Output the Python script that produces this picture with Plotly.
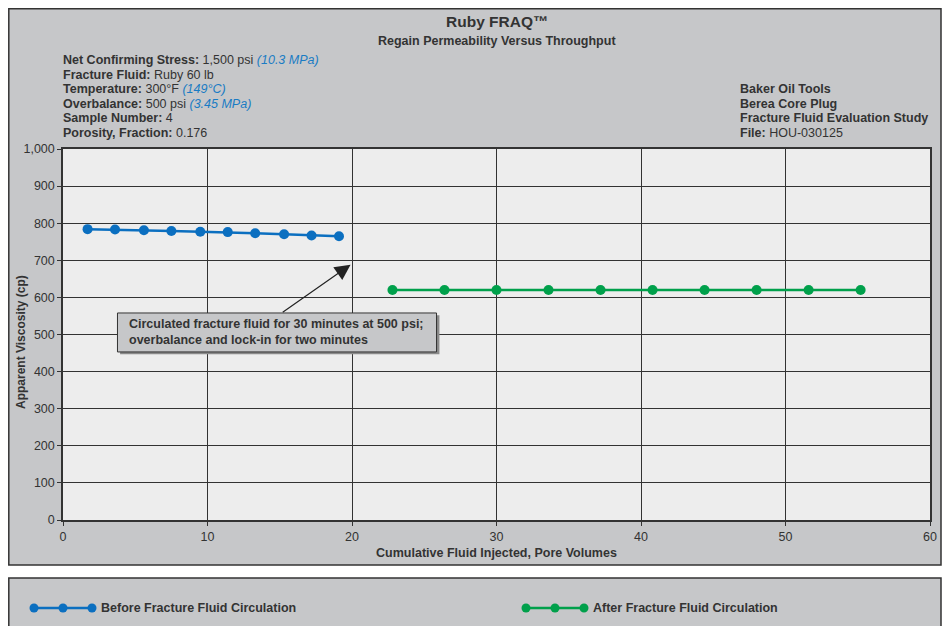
import plotly.graph_objects as go

# ---------------- data ----------------
before_x = [1.7, 3.6, 5.6, 7.5, 9.5, 11.4, 13.3, 15.3, 17.2, 19.1]
before_y = [784, 783, 781, 779, 777, 776, 773, 770, 767, 765]
after_x = [22.8, 26.4, 30.0, 33.6, 37.2, 40.8, 44.4, 48.0, 51.6, 55.2]
after_y = [620, 620, 620, 620, 620, 620, 620, 620, 620, 620]
x_ticks = [0, 10, 20, 30, 40, 50, 60]
y_ticks = [0, 100, 200, 300, 400, 500, 600, 700, 800, 900, 1000]
y_tick_text = ["0", "100", "200", "300", "400", "500", "600", "700", "800", "900", "1,000"]
series_names = ["Before Fracture Fluid Circulation", "After Fracture Fluid Circulation"]

BLUE = "#0b6fc0"
GREEN = "#00a04b"
DARK = "#333333"
PANEL = "#c6c7c9"
PLOTBG = "#ededed"
SANS = "Liberation Sans, Arial, Helvetica, sans-serif"

W, H = 942, 626
L, R, T, B = 63, 12, 149, 106
PW = W - L - R
PH = H - T - B


def px(x):
    return (x - L) / PW


def py(y):
    return (H - B - y) / PH


fig = go.Figure()
fig.add_trace(go.Scatter(x=before_x, y=before_y, mode="lines+markers", name=series_names[0],
                         line=dict(color=BLUE, width=2.5), marker=dict(color=BLUE, size=10),
                         showlegend=False))
fig.add_trace(go.Scatter(x=after_x, y=after_y, mode="lines+markers", name=series_names[1],
                         line=dict(color=GREEN, width=2.5), marker=dict(color=GREEN, size=10),
                         showlegend=False))

shapes = []
# outer panel
shapes.append(dict(type="rect", xref="paper", yref="paper", x0=px(8.8), x1=px(941), y0=py(565), y1=py(8.8),
                   fillcolor=PANEL, line=dict(color=DARK, width=1.5), layer="below"))
# plot background
shapes.append(dict(type="rect", xref="paper", yref="paper", x0=0, x1=1, y0=0, y1=1,
                   fillcolor=PLOTBG, line=dict(width=0), layer="below"))
# legend panel
shapes.append(dict(type="rect", xref="paper", yref="paper", x0=px(8.8), x1=px(941), y0=py(640), y1=py(578),
                   fillcolor=PANEL, line=dict(color=DARK, width=1.5), layer="below"))
# annotation box shadow and box (data coordinates)
shapes.append(dict(type="rect", xref="x", yref="y", x0=3.95, x1=26.05, y0=447, y1=552,
                   fillcolor="#8a8a8a", line=dict(width=0), layer="above"))
shapes.append(dict(type="rect", xref="x", yref="y", x0=3.77, x1=25.85, y0=453, y1=558,
                   fillcolor=PANEL, line=dict(color=DARK, width=1), layer="above"))

# legend swatches
for (x0, color) in [(30, BLUE), (522, GREEN)]:
    shapes.append(dict(type="line", xref="paper", yref="paper", x0=px(x0 + 3), x1=px(x0 + 62),
                       y0=py(608), y1=py(608), line=dict(color=color, width=2.5)))
    for k in range(3):
        cx = x0 + 4 + k * 29
        shapes.append(dict(type="circle", xref="paper", yref="paper",
                           x0=px(cx - 4.5), x1=px(cx + 4.5), y0=py(612.5), y1=py(603.5),
                           fillcolor=color, line=dict(color=color, width=0)))

annotations = []
annotations.append(dict(xref="paper", yref="paper", x=px(497), y=py(22), text="<b>Ruby FRAQ™</b>",
                        showarrow=False, font=dict(family=SANS, size=15.5, color=DARK),
                        xanchor="center", yanchor="middle"))
annotations.append(dict(xref="paper", yref="paper", x=px(497), y=py(41),
                        text="<b>Regain Permeability Versus Throughput</b>",
                        showarrow=False, font=dict(family=SANS, size=12.5, color=DARK),
                        xanchor="center", yanchor="middle"))

blue_i = "#1a7cc4"
left_lines = [
    "<b>Net Confirming Stress:</b> 1,500 psi <i><span style='color:%s'>(10.3 MPa)</span></i>" % blue_i,
    "<b>Fracture Fluid:</b> Ruby 60 lb",
    "<b>Temperature:</b> 300°F <i><span style='color:%s'>(149°C)</span></i>" % blue_i,
    "<b>Overbalance:</b> 500 psi <i><span style='color:%s'>(3.45 MPa)</span></i>" % blue_i,
    "<b>Sample Number:</b> 4",
    "<b>Porosity, Fraction:</b> 0.176",
]
for i, t in enumerate(left_lines):
    annotations.append(dict(xref="paper", yref="paper", x=px(61), y=py(60 + i * 14.6), text=t,
                            showarrow=False, font=dict(family=SANS, size=12.5, color=DARK),
                            xanchor="left", yanchor="middle"))
right_lines = ["<b>Baker Oil Tools</b>", "<b>Berea Core Plug</b>",
               "<b>Fracture Fluid Evaluation Study</b>", "<b>File:</b> HOU-030125"]
for i, t in enumerate(right_lines):
    annotations.append(dict(xref="paper", yref="paper", x=px(738), y=py(89 + i * 14.6), text=t,
                            showarrow=False, font=dict(family=SANS, size=12.5, color=DARK),
                            xanchor="left", yanchor="middle"))

# y axis title (placed precisely)
annotations.append(dict(xref="paper", yref="paper", x=px(21), y=py(342), text="<b>Apparent Viscosity (cp)</b>",
                        textangle=-90, showarrow=False, xanchor="center", yanchor="middle",
                        font=dict(family=SANS, size=12, color=DARK)))

# arrow
annotations.append(dict(xref="x", yref="y", axref="x", ayref="y", x=19.9, y=688, ax=15.1, ay=557,
                        text="", showarrow=True, arrowhead=2, arrowsize=2.6, arrowwidth=1.2,
                        arrowcolor="#222222"))
# box text
annotations.append(dict(xref="x", yref="y", x=4.4, y=505.5,
                        text="<b>Circulated fracture fluid for 30 minutes at 500 psi;<br>"
                             "overbalance and lock-in for two minutes</b>",
                        showarrow=False, align="left", xanchor="left", yanchor="middle",
                        font=dict(family=SANS, size=12.5, color=DARK)))

# legend text
for xx, name in [(99, series_names[0]), (591, series_names[1])]:
    annotations.append(dict(xref="paper", yref="paper", x=px(xx), y=py(608), text="<b>%s</b>" % name,
                            showarrow=False, xanchor="left", yanchor="middle",
                            font=dict(family=SANS, size=12.5, color=DARK)))

fig.update_layout(
    width=W, height=H,
    margin=dict(l=L, r=R, t=T, b=B, autoexpand=False),
    paper_bgcolor="white",
    plot_bgcolor="rgba(0,0,0,0)",
    shapes=shapes,
    annotations=annotations,
    showlegend=False,
    xaxis=dict(range=[0, 60], tickvals=x_ticks, showgrid=True, gridcolor=DARK, gridwidth=1,
               showline=True, linecolor=DARK, linewidth=1.5, mirror=True, zeroline=False,
               ticks="outside", ticklen=4, tickcolor=DARK,
               tickfont=dict(family=SANS, size=12.5, color=DARK),
               title=dict(text="<b>Cumulative Fluid Injected, Pore Volumes</b>",
                          font=dict(family=SANS, size=12.5, color=DARK), standoff=5)),
    yaxis=dict(range=[0, 1000], tickvals=y_ticks, ticktext=y_tick_text, showgrid=True,
               gridcolor=DARK, gridwidth=1, showline=True, linecolor=DARK, linewidth=1.5,
               mirror=True, zeroline=False, ticks="outside", ticklen=4, tickcolor=DARK,
               tickfont=dict(family=SANS, size=12.5, color=DARK)),
)

fig.write_html("out.html", default_width="%dpx" % W, default_height="%dpx" % H,
               config={"displayModeBar": False},
               post_script="document.body.style.margin='0px';document.body.style.overflow='hidden';")
